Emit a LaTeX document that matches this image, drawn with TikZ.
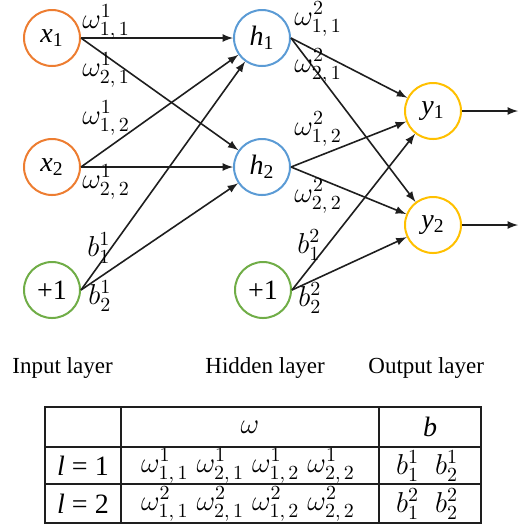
\documentclass[tikz,border=0pt]{standalone}
\usepackage[no-math]{fontspec}
\setmainfont{Liberation Serif}
\usetikzlibrary{arrows,positioning}

\definecolor{inorange}{RGB}{237,125,49}
\definecolor{hidblue}{RGB}{91,155,213}
\definecolor{biasgreen}{RGB}{112,173,71}
\definecolor{outgold}{RGB}{255,192,0}
\definecolor{linkgray}{RGB}{30,30,30}

\begin{document}
\begin{tikzpicture}[x=0.5pt, y=-0.5pt, >=latex,
    every node/.style={font=\rmfamily\fontsize{14}{16}\selectfont},
    neuron/.style={circle, draw, line width=1pt, minimum size=28pt, inner sep=0pt},
    link/.style={->, line width=0.8pt, draw=linkgray},
    wlabel/.style={anchor=west, inner sep=0pt, font=\fontsize{14}{16}\selectfont},
    layername/.style={anchor=west, inner sep=0pt, font=\rmfamily\fontsize{11.5}{14}\selectfont},
    cell/.style={inner sep=0pt, font=\rmfamily\fontsize{14}{16}\selectfont},
    tablerule/.style={line width=0.7pt, draw=linkgray}]
        \useasboundingbox (0,0) rectangle (528,527);

        % Nodes
        \node[neuron, draw=inorange] (x1) at (52,38) {\textit{x}\textsubscript{1}};
        \node[neuron, draw=inorange] (x2) at (52,167) {\textit{x}\textsubscript{2}};
        \node[neuron, draw=biasgreen] (b1) at (52,290) {+1};
        \node[neuron, draw=hidblue] (h1) at (262,38) {\textit{h}\textsubscript{1}};
        \node[neuron, draw=hidblue] (h2) at (262,167) {\textit{h}\textsubscript{2}};
        \node[neuron, draw=biasgreen] (b2) at (263,290) {+1};
        \node[neuron, draw=outgold] (y1) at (433,111) {\textit{y}\textsubscript{1}};
        \node[neuron, draw=outgold] (y2) at (433,225) {\textit{y}\textsubscript{2}};
        \coordinate (o1) at (518,111);
        \coordinate (o2) at (518,225);

        % Links
        \draw[link] (x1.east) -- (h1);
        \draw[link] (x1.east) -- (h2);
        \draw[link] (x2.east) -- (h1);
        \draw[link] (x2.east) -- (h2);
        \draw[link] (b1.east) -- (h1);
        \draw[link] (b1.east) -- (h2);
        \draw[link] (h1.east) -- (y1);
        \draw[link] (h1.east) -- (y2);
        \draw[link] (h2.east) -- (y1);
        \draw[link] (h2.east) -- (y2);
        \draw[link] (b2.east) -- (y1);
        \draw[link] (b2.east) -- (y2);
        \draw[link] (y1.east) -- (o1);
        \draw[link] (y2.east) -- (o2);

        % Weight labels
        \node[wlabel] (w111) at (82,22) {$\omega^{1}_{1,\,1}$};
        \node[wlabel] (w121) at (82,70) {$\omega^{1}_{2,\,1}$};
        \node[wlabel] (w112) at (82,118) {$\omega^{1}_{1,\,2}$};
        \node[wlabel] (w122) at (82,182) {$\omega^{1}_{2,\,2}$};
        \node[wlabel] (c11) at (87,248) {$b^{1}_{1}$};
        \node[wlabel] (c12) at (88,296) {$b^{1}_{2}$};
        \node[wlabel] (w211) at (294,19) {$\omega^{2}_{1,\,1}$};
        \node[wlabel] (w221) at (294,66) {$\omega^{2}_{2,\,1}$};
        \node[wlabel] (w212) at (294,129) {$\omega^{2}_{1,\,2}$};
        \node[wlabel] (w222) at (294,196) {$\omega^{2}_{2,\,2}$};
        \node[wlabel] (c21) at (297,245) {$b^{2}_{1}$};
        \node[wlabel] (c22) at (298,298) {$b^{2}_{2}$};

        % Layer names
        \node[layername] (lin) at (12,368) {Input layer};
        \node[layername] (lhid) at (205,368) {Hidden layer};
        \node[layername] (lout) at (368,368) {Output layer};

        % Table
        \draw[tablerule] (45,407) rectangle (481,523);
        \draw[tablerule] (45,447) -- (481,447);
        \draw[tablerule] (45,484) -- (481,484);
        \draw[tablerule] (121,407) -- (121,523);
        \draw[tablerule] (379,407) -- (379,523);
        \node[cell] (tw) at (250,427) {$\omega$};
        \node[cell] (tb) at (430,427) {\textit{b}};
        \node[cell] (l1) at (83,466) {\textit{l} = 1};
        \node[cell] (l2) at (83,504) {\textit{l} = 2};
        \node[cell] (tw1) at (248,466) {$\omega^{1}_{1,\,1}\;\omega^{1}_{2,\,1}\;\omega^{1}_{1,\,2}\;\omega^{1}_{2,\,2}$};
        \node[cell] (tw2) at (248,504) {$\omega^{2}_{1,\,1}\;\omega^{2}_{2,\,1}\;\omega^{2}_{1,\,2}\;\omega^{2}_{2,\,2}$};
        \node[cell] (tb1) at (427,466) {$b^{1}_{1}\;\;b^{1}_{2}$};
        \node[cell] (tb2) at (427,504) {$b^{2}_{1}\;\;b^{2}_{2}$};
\end{tikzpicture}
\end{document}
